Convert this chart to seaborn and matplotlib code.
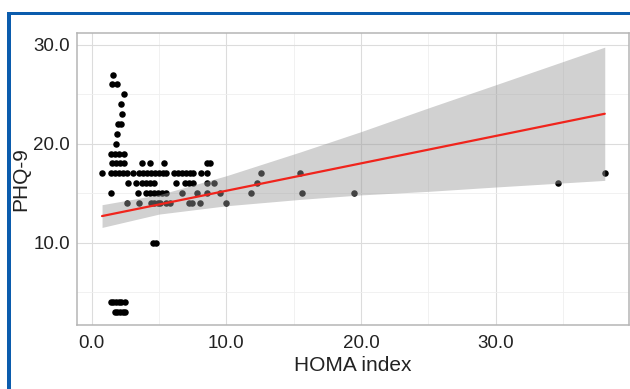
import matplotlib
matplotlib.use("Agg")
import matplotlib.pyplot as plt
from matplotlib.patches import Rectangle
from matplotlib.ticker import MultipleLocator, FormatStrFormatter
import pandas as pd
import seaborn as sns

# Subjects: HOMA insulin-resistance index and PHQ-9 depression score
homa_index = [
    1.56,
    1.50, 1.85,
    2.40,
    2.20,
    2.28,
    1.95, 2.15,
    1.90,
    1.78,
    1.45, 1.75, 2.05, 2.40,
    1.50, 1.80, 2.10, 2.40, 3.75, 4.30, 5.40, 8.55, 8.80,
    0.79, 1.40, 1.70, 2.00, 2.30, 2.60, 3.10, 3.50, 3.80, 4.10, 4.40, 4.70,
    5.00, 5.30, 5.55, 6.10, 6.40, 6.70, 7.00, 7.30, 7.55, 8.10, 8.60, 12.55,
    15.50, 38.10,
    2.68, 3.27, 3.75, 4.05, 4.35, 4.65, 6.25, 6.95, 7.25, 7.55, 8.60, 9.10,
    12.30, 34.60,
    1.43, 3.42, 4.00, 4.30, 4.60, 4.90, 5.20, 5.55, 6.70, 7.80, 8.60, 9.50,
    11.80, 15.60, 19.45,
    2.60, 3.52, 4.40, 4.65, 4.90, 5.10, 5.50, 5.80, 7.20, 7.45, 8.05, 10.00,
    4.55, 4.75,
    1.40, 1.60, 1.80, 2.00, 2.20, 2.45,
    1.70, 1.90, 2.10, 2.30, 2.45,
]
phq9 = (
    [27] * 1 + [26] * 2 + [25] * 1 + [24] * 1 + [23] * 1 + [22] * 2
    + [21] * 1 + [20] * 1 + [19] * 4 + [18] * 9 + [17] * 26 + [16] * 14
    + [15] * 15 + [14] * 12 + [10] * 2 + [4] * 6 + [3] * 5
)

# Fitted linear trend and its 95% confidence band
fit_homa = [0.77, 38.10]
fit_phq9 = [12.68, 23.03]
band_homa = [0.77, 5.0, 10.0, 15.5, 20.0, 25.0, 30.0, 38.10]
band_lower = [11.53, 12.88, 13.72, 14.37, 14.82, 15.18, 15.62, 16.29]
band_upper = [13.83, 14.84, 16.76, 19.17, 21.22, 23.62, 25.96, 29.77]

x_ticks = [0, 10, 20, 30]
y_ticks = [10, 20, 30]

df = pd.DataFrame({"HOMA": homa_index, "PHQ9": phq9})

sns.set_theme(style="white")
plt.rcParams["font.family"] = ["Liberation Sans", "DejaVu Sans"]

W, H = 630, 389
fig = plt.figure(figsize=(W / 100, H / 100), dpi=100)
ax = fig.add_axes([77 / W, 1 - 325 / H, (629 - 77) / W, (325 - 33) / H])

sns.scatterplot(data=df, x="HOMA", y="PHQ9", ax=ax, color="black",
                s=22, linewidth=0, zorder=2, legend=False)
ax.fill_between(band_homa, band_lower, band_upper, color="#999999",
                alpha=0.45, linewidth=0, zorder=3)
sns.lineplot(x=fit_homa, y=fit_phq9, ax=ax, color="#f0241c",
             linewidth=1.6, zorder=4)

ax.set_xlim(-1.09, 39.9)
ax.set_ylim(1.66, 31.2)
ax.xaxis.set_minor_locator(MultipleLocator(5))
ax.yaxis.set_minor_locator(MultipleLocator(5))
ax.set_xticks(x_ticks)
ax.set_yticks(y_ticks)
ax.xaxis.set_major_formatter(FormatStrFormatter("%.1f"))
ax.yaxis.set_major_formatter(FormatStrFormatter("%.1f"))

ax.grid(True, which="major", color="#dcdcdc", linewidth=0.8, zorder=0)
ax.grid(True, which="minor", color="#efefef", linewidth=0.6, zorder=0)
ax.set_axisbelow(True)
for side in ax.spines.values():
    side.set_color("#b5b5b5")
    side.set_linewidth(1.1)

ax.tick_params(axis="both", which="major", length=3, width=0.8,
               color="#b5b5b5", labelsize=13.5, labelcolor="#222222")
ax.tick_params(axis="x", which="major", pad=4)
ax.tick_params(axis="y", which="major", pad=2)
ax.tick_params(which="minor", length=0)

ax.set_xlabel("HOMA index", fontsize=15, color="#222222", labelpad=3)
ax.set_ylabel("PHQ-9", fontsize=15, color="#222222", labelpad=2)

# Blue frame along the top and left edges
blue = "#0b5cad"
fig.add_artist(Rectangle((7 / W, 0), 4 / W, 1 - 12 / H,
                         transform=fig.transFigure, color=blue, lw=0))
fig.add_artist(Rectangle((7 / W, 1 - 15 / H), 1 - 7 / W, 3 / H,
                         transform=fig.transFigure, color=blue, lw=0))

fig.savefig("out.png", dpi=100)
